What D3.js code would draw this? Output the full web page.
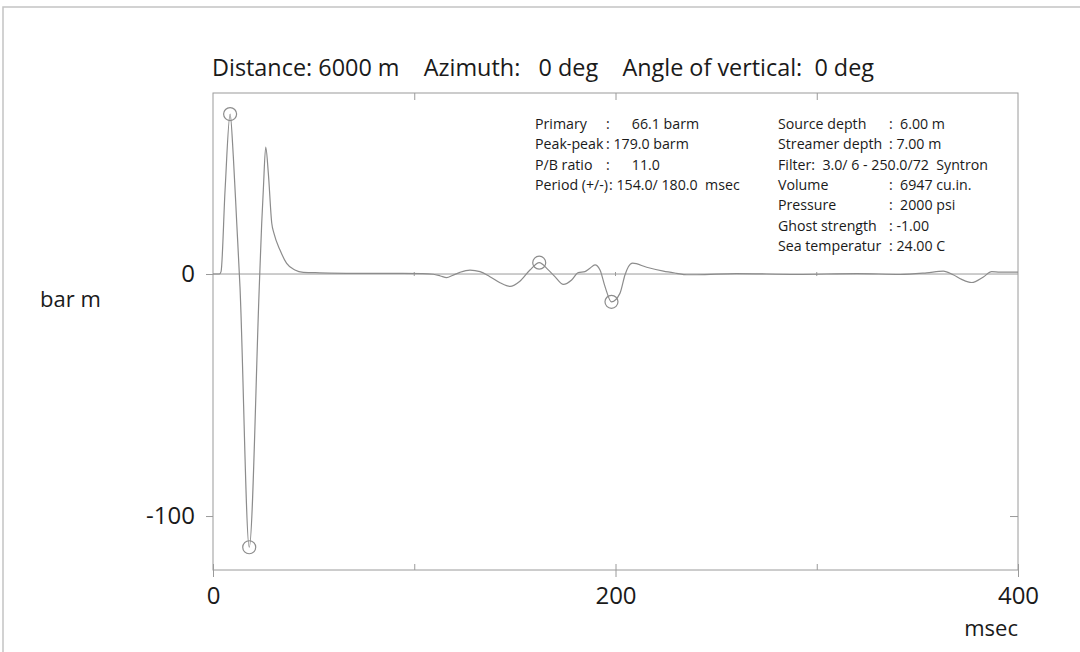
<!DOCTYPE html>
<html>
<head>
<meta charset="utf-8">
<script src="https://cdn.jsdelivr.net/npm/d3@7"></script>
<style>
  body { margin: 0; background: #fff; }
  svg text { font-family: "Open Sans", sans-serif; fill: #1a1a1a; }
  .axis path { display: none; }
  .axis line { stroke: #9a9a9a; }
  .info text { white-space: pre; }
</style>
</head>
<body>
<div id="chart"></div>
<script>
// signature, msec vs bar m
var time = [0, 3.2, 4, 6, 8.5, 10.1, 11.8, 13.4, 18, 23, 24.2, 25, 26.2, 27.5, 29.2, 30.3,
    33.3, 36.6, 40.7, 44.9, 53, 70, 90, 104, 109.5, 113, 116.1, 119, 122.7, 127.7, 132.7,
    137.6, 142.6, 147.6, 152.5, 157.5, 162.1, 166.6, 169.9, 174.1, 178.2, 181.5, 184.8,
    187.3, 189.8, 192.3, 194.8, 198, 202.2, 204.7, 206.4, 208.5, 215.5, 223.8, 230.4,
    235.4, 240.3, 260, 290, 320, 341.4, 354.6, 362.9, 367.8, 372, 377, 382.8, 386.9, 391, 400];
var amplitude = [0, 0, 1, 34.7, 66.1, 48.5, 21, -5.2, -112.9, -5.2, 21, 34.7, 52.4, 41.6, 21, 16.8,
    9.9, 4.4, 1.65, 0.7, 0.5, 0.3, 0.3, 0.2, -0.1, -0.8, -1.5, -0.6, 0.7, 1.65, 1.0,
    -1.1, -3.6, -5.1, -3.0, 1.65, 4.7, 1.7, -1.1, -4.3, -2.5, 0.6, 1.0,
    2.4, 3.8, 1.7, -5.2, -11.5, -8.0, -0.4, 3.0, 4.5, 2.8, 1.2, 0.3,
    -0.3, -0.3, 0.2, -0.2, 0.2, -0.2, 0.5, 1.2, -0.3, -2.2, -3.5, -1.2, 1.0, 0.8, 0.8];

// circled extremes: primary peak, ghost trough, bubble peak, bubble trough
var markTime = [8.5, 18, 162.1, 198];
var markValue = [66.1, -112.9, 4.7, -11.5];

var title = "Distance: 6000 m    Azimuth:   0 deg    Angle of vertical:  0 deg";

var infoLeftLabels = ["Primary", "Peak-peak", "P/B ratio", "Period (+/-)"];
var infoLeftValues = [":      66.1 barm", ": 179.0 barm", ":      11.0", ": 154.0/ 180.0  msec"];

var infoRightLabels = ["Source depth", "Streamer depth", "Filter:  3.0/ 6 - 250.0/72  Syntron",
    "Volume", "Pressure", "Ghost strength", "Sea temperatur"];
var infoRightValues = [":  6.00 m", ": 7.00 m", "", ":  6947 cu.in.", ":  2000 psi",
    ": -1.00", ": 24.00 C"];

var xTicks = [0, 200, 400];
var xMinorTicks = [100, 300];
var yTicks = [0, -100];

var W = 1080, H = 652;
var box = {left: 213, right: 1018, top: 93, bottom: 570};

var svg = d3.select("#chart").append("svg")
    .attr("width", W)
    .attr("height", H);

// page frame
svg.append("path")
    .attr("d", "M3," + H + "V7H" + W)
    .attr("fill", "none")
    .attr("stroke", "#c4c4c4")
    .attr("stroke-width", 1.5);

var xScale = d3.scaleLinear().domain([0, 400]).range([box.left, box.right]);
var yScale = d3.scaleLinear().domain([-122.3, 74.8]).range([box.bottom, box.top]);

// plot box
svg.append("rect")
    .attr("x", box.left)
    .attr("y", box.top)
    .attr("width", box.right - box.left)
    .attr("height", box.bottom - box.top)
    .attr("fill", "none")
    .attr("stroke", "#9a9a9a");

var plain = function (d) { return String(d); };

// bottom axis: labels + outer ticks
svg.append("g")
    .attr("class", "axis")
    .attr("transform", "translate(0," + box.bottom + ")")
    .call(d3.axisBottom(xScale).tickValues(xTicks).tickSize(7).tickPadding(10).tickFormat(plain))
    .selectAll("text")
    .style("font-size", "24px");

// inner ticks at bottom and top
svg.append("g")
    .attr("class", "axis")
    .attr("transform", "translate(0," + box.bottom + ")")
    .call(d3.axisTop(xScale).tickValues(xTicks.concat(xMinorTicks)).tickSize(6).tickFormat(""));
svg.append("g")
    .attr("class", "axis")
    .attr("transform", "translate(0," + box.top + ")")
    .call(d3.axisBottom(xScale).tickValues(xMinorTicks.concat([200])).tickSize(7).tickFormat(""));

// left axis
svg.append("g")
    .attr("class", "axis")
    .attr("transform", "translate(" + box.left + ",0)")
    .call(d3.axisLeft(yScale).tickValues(yTicks).tickSize(7).tickPadding(11).tickFormat(plain))
    .selectAll("text")
    .style("font-size", "24px");

// right axis inner tick
svg.append("g")
    .attr("class", "axis")
    .attr("transform", "translate(" + box.right + ",0)")
    .call(d3.axisLeft(yScale).tickValues([-100]).tickSize(8).tickFormat(""));

// zero line with small ticks
svg.append("line")
    .attr("x1", box.left).attr("x2", box.right)
    .attr("y1", yScale(0)).attr("y2", yScale(0))
    .attr("stroke", "#9a9a9a");
svg.selectAll(".zt")
    .data(xMinorTicks.concat([200]))
    .enter().append("line")
    .attr("x1", function (d) { return xScale(d); })
    .attr("x2", function (d) { return xScale(d); })
    .attr("y1", yScale(0) - 2)
    .attr("y2", yScale(0) + 2)
    .attr("stroke", "#9a9a9a");

// axis titles
svg.append("text")
    .attr("x", 40).attr("y", 307)
    .style("font-size", "22px")
    .text("bar m");
svg.append("text")
    .attr("x", box.right).attr("y", 636)
    .attr("text-anchor", "end")
    .style("font-size", "22px")
    .text("msec");

svg.append("text")
    .attr("x", 212).attr("y", 76)
    .style("font-size", "23.4px")
    .style("white-space", "pre")
    .text(title);

// waveform
var points = time.map(function (t, i) { return [t, amplitude[i]]; });
var line = d3.line()
    .x(function (d) { return xScale(d[0]); })
    .y(function (d) { return yScale(d[1]); })
    .curve(d3.curveMonotoneX);

svg.append("path")
    .datum(points)
    .attr("d", line)
    .attr("fill", "none")
    .attr("stroke", "#8c8c8c")
    .attr("stroke-width", 1.2);

svg.selectAll(".mark")
    .data(markTime)
    .enter().append("circle")
    .attr("cx", function (d) { return xScale(d); })
    .attr("cy", function (d, i) { return yScale(markValue[i]); })
    .attr("r", 6.5)
    .attr("fill", "none")
    .attr("stroke", "#8c8c8c")
    .attr("stroke-width", 1.2);

// info blocks
function infoBlock(labels, values, x, colonX, y0) {
    var g = svg.append("g").attr("class", "info");
    labels.forEach(function (lab, i) {
        var y = y0 + i * 20.3;
        var t = g.append("text")
            .attr("x", x).attr("y", y)
            .style("font-size", "14.2px")
            .text(lab);
        if (values[i]) {
            var end = x + t.node().getComputedTextLength();
            g.append("text")
                .attr("x", Math.max(colonX, end + 1)).attr("y", y)
                .style("font-size", "14.2px")
                .text(values[i]);
        }
    });
}
infoBlock(infoLeftLabels, infoLeftValues, 535, 606, 129);
infoBlock(infoRightLabels, infoRightValues, 778, 889, 129);
</script>
</body>
</html>
